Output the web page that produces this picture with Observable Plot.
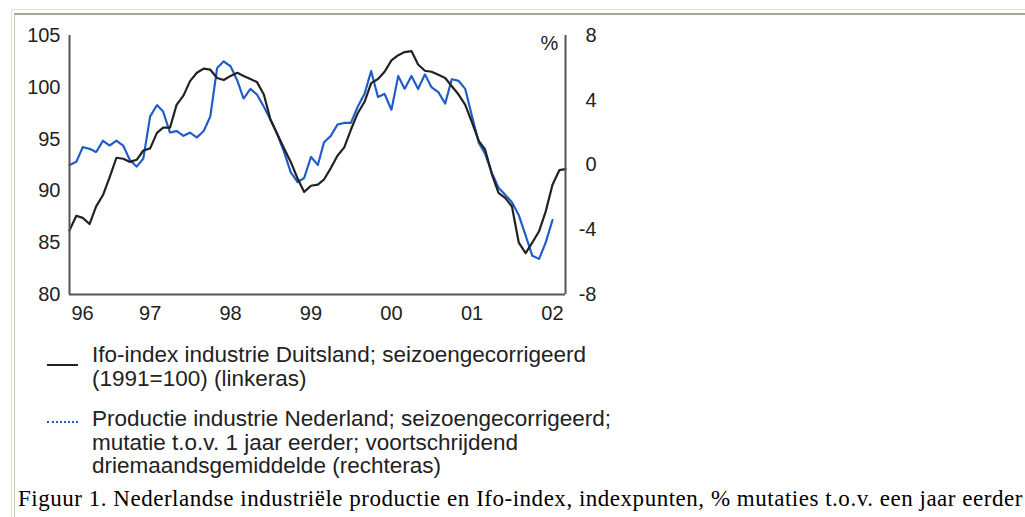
<!DOCTYPE html>
<html><head><meta charset="utf-8">
<script src="https://cdn.jsdelivr.net/npm/d3@7"></script>
<script src="https://cdn.jsdelivr.net/npm/@observablehq/plot@0.6"></script>
<style>
body{margin:0;background:#fff;width:1025px;height:517px;overflow:hidden;position:relative;font-family:"Liberation Sans",Arial,sans-serif;color:#222;}
#frame1{position:absolute;left:11px;top:9px;width:1100px;height:600px;border-left:1px solid #e4dfcf;border-top:1px solid #e4dfcf;}
#frame2{position:absolute;left:14px;top:13px;width:1100px;height:600px;border-left:1px solid #cfcabb;border-top:2px solid #aaa598;}
#chart{position:absolute;left:0;top:0;}
.lg{position:absolute;left:92px;font-size:22.5px;line-height:23.5px;white-space:nowrap;color:#222;}
.sw{position:absolute;left:47px;width:31px;height:0;}
#caption{position:absolute;left:18px;top:486px;font-family:"Liberation Serif","Times New Roman",serif;font-size:23px;letter-spacing:0.52px;white-space:nowrap;color:#000;}
</style></head>
<body>
<div id="frame1"></div><div id="frame2"></div>
<div id="chart"></div>
<div class="sw" style="top:364px;border-top:2px solid #222;"></div>
<div class="lg" style="top:343px;">Ifo-index industrie Duitsland; seizoengecorrigeerd<br>(1991=100) (linkeras)</div>
<div class="sw" style="top:421px;border-top:2px dotted #1f5cc8;"></div>
<div class="lg" style="top:407px;">Productie industrie Nederland; seizoengecorrigeerd;<br>mutatie t.o.v. 1 jaar eerder; voortschrijdend<br>driemaandsgemiddelde (rechteras)</div>
<div id="caption">Figuur 1. Nederlandse industriële productie en Ifo-index, indexpunten, % mutaties t.o.v. een jaar eerder</div>
<script>
// Monthly series starting January 1996
const startYear = 1996;
const ifo = [86.2,87.6,87.4,86.8,88.5,89.6,91.3,93.2,93.1,92.8,93.0,93.9,
  94.1,95.6,96.1,96.1,98.3,99.2,100.6,101.4,101.8,101.7,100.9,100.7,
  101.1,101.4,101.1,100.8,100.5,99.3,96.9,95.5,94.1,92.8,91.2,89.9,
  90.5,90.6,91.1,92.2,93.4,94.2,95.9,97.5,98.6,100.4,100.8,101.5,
  102.6,103.1,103.4,103.5,102.2,101.6,101.5,101.2,100.9,100.1,99.3,98.3,
  96.6,94.8,94.0,91.6,89.8,89.3,88.5,85.0,84.0,85.0,86.1,88.0,
  90.6,92.0,92.1];
const prod = [0.0,0.2,1.1,1.0,0.8,1.5,1.2,1.5,1.2,0.3,-0.1,0.4,
  3.0,3.7,3.3,2.0,2.1,1.8,2.0,1.7,2.1,3.0,6.0,6.4,
  6.1,5.2,4.1,4.7,4.35,3.6,2.8,1.9,0.8,-0.45,-1.05,-0.8,
  0.5,0.0,1.4,1.8,2.5,2.6,2.6,3.6,4.4,5.8,4.2,4.4,
  3.4,5.5,4.7,5.5,4.7,5.6,4.8,4.5,3.8,5.3,5.2,4.7,
  3.0,1.35,0.7,-0.5,-1.4,-1.85,-2.3,-3.1,-4.35,-5.6,-5.8,-4.8,
  -3.4];
const yearTicks = [1996,1997,1998,1999,2000,2001,2002];
const yearLabels = ["96","97","98","99","00","01","02"];
const leftTicks = [80,85,90,95,100,105];
const rightTicks = [-8,-4,0,4,8];
const leftDomain = [80,105];
const rightDomain = [-8,8];

const month = i => new Date(Date.UTC(startYear, i, 1));
// map right-axis values onto the left scale
const toLeft = v => leftDomain[0] + (v - rightDomain[0]) * (leftDomain[1]-leftDomain[0]) / (rightDomain[1]-rightDomain[0]);
const toRight = d => Math.round((d - leftDomain[0])*(rightDomain[1]-rightDomain[0])/(leftDomain[1]-leftDomain[0]) + rightDomain[0]);

const ifoData = ifo.map((v,i) => ({date: month(i), v}));
const prodData = prod.map((v,i) => ({date: month(i), v: toLeft(v)}));
const ticks = yearTicks.map((y,i) => ({date: new Date(Date.UTC(y,0,1)), label: yearLabels[i]}));
const xEnd = month(ifo.length - 1);
const xStart = month(0);

const chart = Plot.plot({
  width: 620, height: 330,
  marginLeft: 69, marginRight: 55, marginTop: 35, marginBottom: 36,
  style: {fontFamily: '"Liberation Sans", Arial, sans-serif', fontSize: "20px", color: "#222", background: "transparent"},
  x: {type: "utc", domain: [xStart, xEnd], axis: null},
  y: {domain: leftDomain, axis: null},
  marks: [
    Plot.axisY(leftTicks, {anchor: "left", label: null, tickSize: 0, tickPadding: 9, tickFormat: d => String(d), fontSize: 20}),
    Plot.axisY(rightTicks.map(toLeft), {anchor: "right", label: null, tickSize: 0, tickPadding: 31, textAnchor: "end", tickFormat: d => String(toRight(d)), fontSize: 20}),
    Plot.text(ticks.slice(0,1), {x: "date", y: () => leftDomain[0], text: "label", dy: 19, textAnchor: "start", dx: 2, fontSize: 20, fill: "#222"}),
    Plot.text(ticks.slice(1), {x: "date", y: () => leftDomain[0], text: "label", dy: 19, textAnchor: "middle", fontSize: 20, fill: "#222"}),
    Plot.text(["%"], {x: () => xEnd, y: () => leftDomain[1], dx: -16, dy: 8, textAnchor: "middle", fontSize: 20, fill: "#222"}),
    Plot.line(prodData, {x: "date", y: "v", stroke: "#1f5cc8", strokeWidth: 2.2, strokeDasharray: "2.5,1"}),
    Plot.line(ifoData, {x: "date", y: "v", stroke: "#222", strokeWidth: 2.2}),
    Plot.ruleX([xStart, xEnd], {y1: leftDomain[0], y2: leftDomain[1], stroke: "#555", strokeWidth: 2}),
    Plot.ruleY([leftDomain[0]], {x1: xStart, x2: xEnd, stroke: "#555", strokeWidth: 2})
  ]
});
document.getElementById("chart").appendChild(chart);
</script>
</body></html>
